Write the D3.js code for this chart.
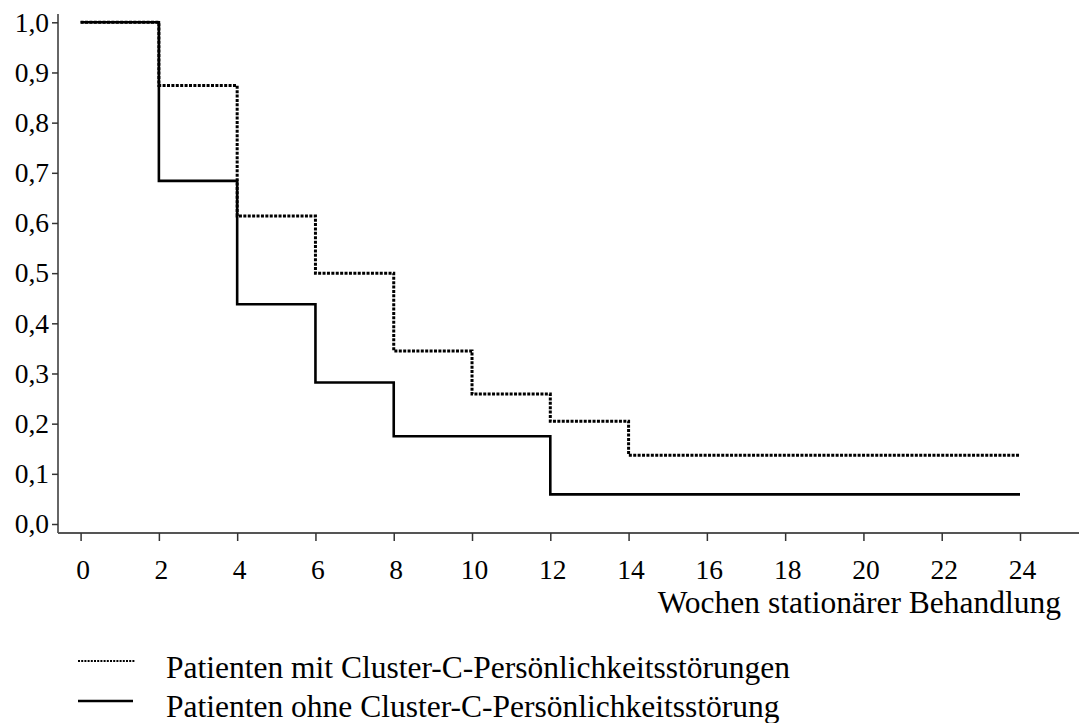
<!DOCTYPE html>
<html>
<head>
<meta charset="utf-8">
<script src="https://cdnjs.cloudflare.com/ajax/libs/d3/7.8.5/d3.min.js"></script>
<style>
    body { margin: 0; background: #fff; }
    svg { display: block; font-family: "Liberation Serif", "Times New Roman", serif; }
</style>
</head>
<body>
<svg></svg>
<script>
// Step times (weeks) and survival values for both groups
const weeksMit = [0, 2, 4, 6, 8, 10, 12, 14, 24];
const survivalMit = [1.0, 0.874, 0.614, 0.500, 0.345, 0.259, 0.205, 0.137, 0.137];

const weeksOhne = [0, 2, 4, 6, 8, 12, 24];
const survivalOhne = [1.0, 0.684, 0.438, 0.282, 0.175, 0.059, 0.059];

const xTicks = [0, 2, 4, 6, 8, 10, 12, 14, 16, 18, 20, 22, 24];
const yTicks = [0, 0.1, 0.2, 0.3, 0.4, 0.5, 0.6, 0.7, 0.8, 0.9, 1.0];

const xLabel = "Wochen stationärer Behandlung";
const legendLabels = [
    "Patienten mit Cluster-C-Persönlichkeitsstörungen",
    "Patienten ohne Cluster-C-Persönlichkeitsstörung"
];

const width = 1079;
const height = 723;
const axisX = 58;
const axisY = 533;

const svg = d3.select("svg")
    .attr("width", width)
    .attr("height", height);

const x = d3.scaleLinear()
    .domain([0, 24])
    .range([80.6, 1020]);

const y = d3.scaleLinear()
    .domain([0, 1])
    .range([524, 22.3]);

const de = d3.formatLocale({ decimal: ",", thousands: ".", grouping: [3], currency: ["", "€"] });
const fmt = de.format(".1f");

// Axis lines
svg.append("line")
    .attr("x1", axisX).attr("x2", axisX)
    .attr("y1", 14).attr("y2", axisY)
    .attr("stroke", "#333")
    .attr("stroke-width", 1.5);

svg.append("line")
    .attr("x1", axisX).attr("x2", width)
    .attr("y1", axisY).attr("y2", axisY)
    .attr("stroke", "#555")
    .attr("stroke-width", 2);

// Y axis ticks
const yAxis = svg.append("g")
    .attr("transform", `translate(${axisX},0)`)
    .call(d3.axisLeft(y)
        .tickValues(yTicks)
        .tickFormat(fmt)
        .tickSize(6)
        .tickSizeOuter(0)
        .tickPadding(3));

yAxis.select(".domain").remove();
yAxis.selectAll("line").attr("stroke", "#333").attr("stroke-width", 1.5);
yAxis.selectAll("text")
    .attr("fill", "#000")
    .style("font-size", "27.5px")
    .style("font-family", "Liberation Serif, serif");

// X axis ticks
const xAxis = svg.append("g")
    .attr("transform", `translate(0,${axisY})`)
    .call(d3.axisBottom(x)
        .tickValues(xTicks)
        .tickSize(8)
        .tickSizeOuter(0));

xAxis.select(".domain").remove();
xAxis.selectAll("line").attr("stroke", "#333").attr("stroke-width", 1.5);
xAxis.selectAll("text")
    .attr("y", 46)
    .attr("dy", 0)
    .attr("dx", 2)
    .attr("fill", "#000")
    .style("font-size", "27.5px")
    .style("font-family", "Liberation Serif, serif");

svg.append("text")
    .attr("x", 1061)
    .attr("y", 613)
    .attr("text-anchor", "end")
    .style("font-size", "31.5px")
    .text(xLabel);

// Survival curves
const line = d3.line()
    .x(d => x(d[0]))
    .y(d => y(d[1]))
    .curve(d3.curveStepAfter);

svg.append("path")
    .attr("d", line(d3.zip(weeksMit, survivalMit)))
    .attr("fill", "none")
    .attr("stroke", "#000")
    .attr("stroke-width", 3)
    .attr("stroke-dasharray", "3,1.4");

svg.append("path")
    .attr("d", line(d3.zip(weeksOhne, survivalOhne)))
    .attr("fill", "none")
    .attr("stroke", "#000")
    .attr("stroke-width", 2.6);

// Legend
const legend = svg.append("g");

legend.append("line")
    .attr("x1", 78).attr("x2", 135)
    .attr("y1", 661).attr("y2", 661)
    .attr("stroke", "#000")
    .attr("stroke-width", 2)
    .attr("stroke-dasharray", "2,1.2");

legend.append("line")
    .attr("x1", 78).attr("x2", 133)
    .attr("y1", 701).attr("y2", 701)
    .attr("stroke", "#000")
    .attr("stroke-width", 2.5);

legend.selectAll("text.label")
    .data(legendLabels)
    .enter().append("text")
    .attr("class", "label")
    .attr("x", 166)
    .attr("y", (d, i) => 678 + i * 39)
    .style("font-size", "31.5px")
    .text(d => d);
</script>
</body>
</html>
